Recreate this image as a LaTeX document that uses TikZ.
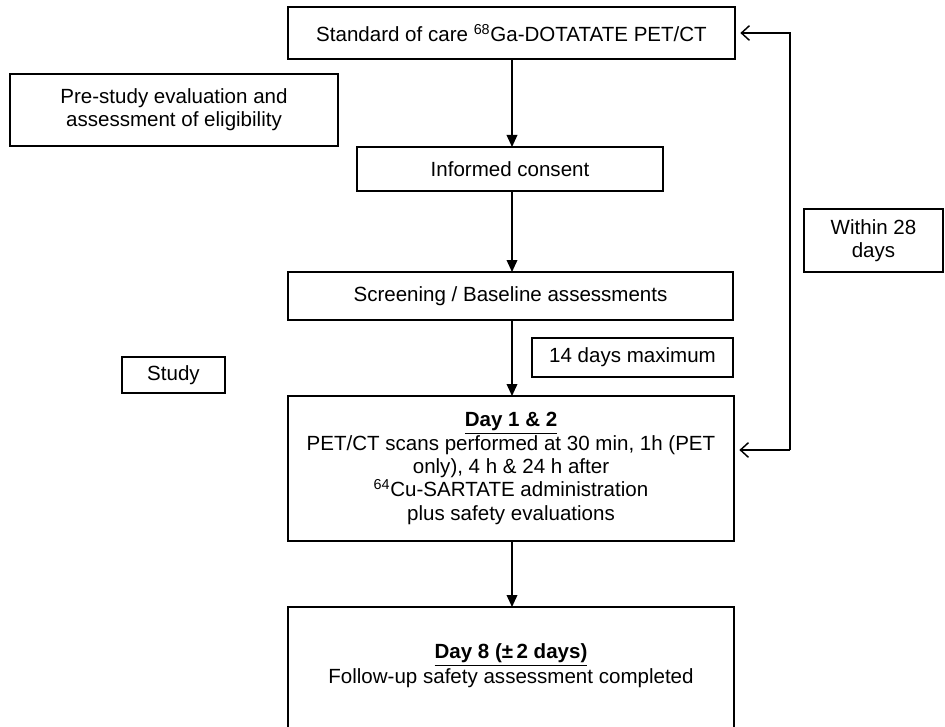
\documentclass[tikz,border=0pt]{standalone}
\usepackage{fontspec}
\setmainfont{Liberation Sans}
\usetikzlibrary{arrows.meta}
\begin{document}
\begin{tikzpicture}[x=0.75pt,y=-0.75pt,
  box/.style={draw,line width=1.4pt,inner sep=0pt,outer sep=0pt,align=center,
    font=\fontsize{15.4}{17.5}\selectfont},
  txt/.style={inner sep=0pt,align=center,font=\fontsize{15.4}{17.5}\selectfont},
  down/.style={line width=1.1pt,-{Triangle[length=9pt,width=8pt]}},
  back/.style={line width=1.1pt,-{Straight Barb[length=6pt,width=11pt]}}]
\useasboundingbox (0,0) rectangle (945,727);
\clip (0,0) rectangle (945,727);
\node[box,minimum width=335.25pt,minimum height=39pt] (soc) at (511.5,33)
  {Standard of care \textsuperscript{68}Ga-DOTATATE PET/CT};
\node[box,minimum width=246pt,minimum height=54pt] (pre) at (174,110)
  {Pre-study evaluation and\\assessment of eligibility};
\node[box,minimum width=229.5pt,minimum height=33pt] (ic) at (510,169)
  {Informed consent};
\node[box,minimum width=333.75pt,minimum height=36pt] (scr) at (510.5,296)
  {Screening / Baseline assessments};
\node[box,minimum width=150.75pt,minimum height=29.25pt] (max) at (632.5,357.5)
  {14 days maximum};
\node[box,minimum width=104.25pt,minimum height=47.25pt] (w28) at (873.5,240.5)
  {Within 28\\days};
\node[box,minimum width=77.25pt,minimum height=27pt] (study) at (173.5,375)
  {Study};
\node[box,minimum width=334.5pt,minimum height=108.75pt] (d1) at (511,468.5)
  {\underline{\textbf{Day 1 \& 2}}\\PET/CT scans performed at 30 min, 1h (PET\\only), 4 h \& 24 h after\\\textsuperscript{64}Cu-SARTATE administration\\plus safety evaluations};
\node[box,minimum width=334.5pt,minimum height=99.75pt] (d8) at (511,673.5) {};
\node[txt] (d8t) at (511,666)
  {\underline{\textbf{Day 8 (±\,2 days)}}\\[1pt]Follow-up safety assessment completed};
\coordinate (rt) at (790,33);
\coordinate (rb) at (790,450);
\draw[down] (soc.south -| 512,0) -- (ic.north -| 512,0);
\draw[down] (ic.south -| 512,0) -- (scr.north -| 512,0);
\draw[down] (scr.south -| 512,0) -- (d1.north -| 512,0);
\draw[down] (d1.south -| 512,0) -- (d8.north -| 512,0);
\draw[back] (rb) -- (rt) -- ([xshift=4pt]soc.east |- rt);
\draw[back] (rb) -- ([xshift=4pt]d1.east |- rb);
\end{tikzpicture}
\end{document}
